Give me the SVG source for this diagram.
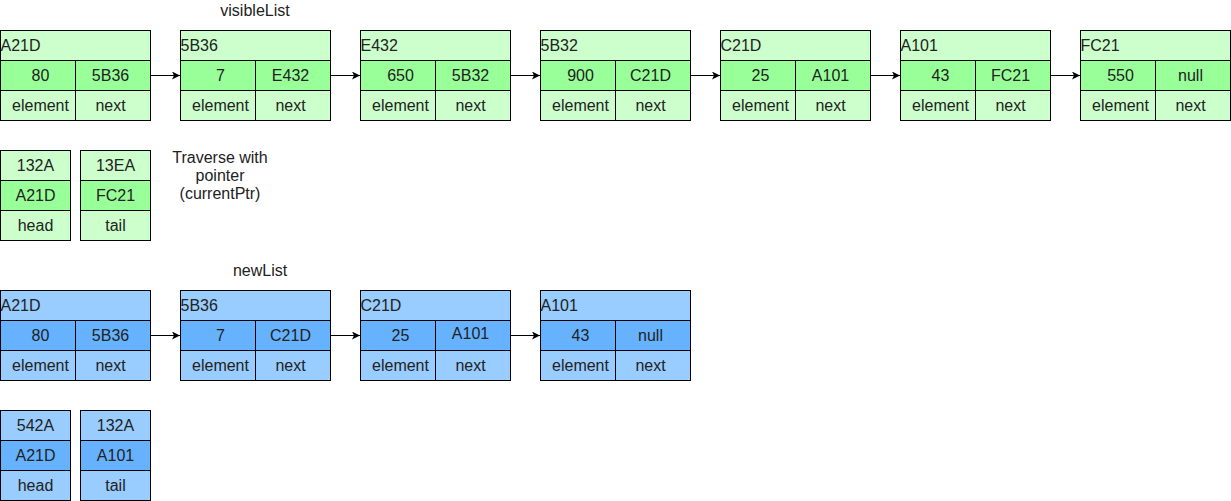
<svg xmlns="http://www.w3.org/2000/svg" width="1231" height="501" viewBox="0 0 1231 501">
<style>
text{font-family:"Liberation Sans",Arial,sans-serif;font-size:16px;fill:#222;dominant-baseline:central}
.c{text-anchor:middle}
.l{text-anchor:start}
.n rect{stroke:#000;stroke-width:1}
.gl{fill:#CCFFCC}.gd{fill:#99FF99}
.bl{fill:#99CCFF}.bd{fill:#66B2FF}
.conn line{stroke:#000;stroke-width:1}
</style>
<defs>
<marker id="ah" markerWidth="10" markerHeight="10" refX="8" refY="4" orient="auto" markerUnits="userSpaceOnUse">
<path d="M0,0 L8,4 L0,8 L2,4 Z" fill="#000"/>
</marker>
</defs>
<rect width="1231" height="501" fill="#fff"/>

<text class="c" x="255" y="10">visibleList</text>
<text class="c" x="260" y="270">newList</text>
<g id="traverse-label"><text class="c" x="220" y="157">Traverse with</text><text class="c" x="220" y="175">pointer</text><text class="c" x="220" y="193">(currentPtr)</text></g>

<!-- green list -->
<g id="g1" class="n" transform="translate(0.5,30.5)"><rect class="gl" width="150" height="30"/><rect class="gd" y="30" width="75" height="30"/><rect class="gd" x="75" y="30" width="75" height="30"/><rect class="gl" y="60" width="75" height="30"/><rect class="gl" x="75" y="60" width="75" height="30"/><text class="l" x="0" y="15">A21D</text><text class="c" x="40" y="45">80</text><text class="c" x="110" y="45">5B36</text><text class="c" x="40" y="75">element</text><text class="c" x="110" y="75">next</text></g>
<g id="g2" class="n" transform="translate(180.5,30.5)"><rect class="gl" width="150" height="30"/><rect class="gd" y="30" width="75" height="30"/><rect class="gd" x="75" y="30" width="75" height="30"/><rect class="gl" y="60" width="75" height="30"/><rect class="gl" x="75" y="60" width="75" height="30"/><text class="l" x="0" y="15">5B36</text><text class="c" x="40" y="45">7</text><text class="c" x="110" y="45">E432</text><text class="c" x="40" y="75">element</text><text class="c" x="110" y="75">next</text></g>
<g id="g3" class="n" transform="translate(360.5,30.5)"><rect class="gl" width="150" height="30"/><rect class="gd" y="30" width="75" height="30"/><rect class="gd" x="75" y="30" width="75" height="30"/><rect class="gl" y="60" width="75" height="30"/><rect class="gl" x="75" y="60" width="75" height="30"/><text class="l" x="0" y="15">E432</text><text class="c" x="40" y="45">650</text><text class="c" x="110" y="45">5B32</text><text class="c" x="40" y="75">element</text><text class="c" x="110" y="75">next</text></g>
<g id="g4" class="n" transform="translate(540.5,30.5)"><rect class="gl" width="150" height="30"/><rect class="gd" y="30" width="75" height="30"/><rect class="gd" x="75" y="30" width="75" height="30"/><rect class="gl" y="60" width="75" height="30"/><rect class="gl" x="75" y="60" width="75" height="30"/><text class="l" x="0" y="15">5B32</text><text class="c" x="40" y="45">900</text><text class="c" x="110" y="45">C21D</text><text class="c" x="40" y="75">element</text><text class="c" x="110" y="75">next</text></g>
<g id="g5" class="n" transform="translate(720.5,30.5)"><rect class="gl" width="150" height="30"/><rect class="gd" y="30" width="75" height="30"/><rect class="gd" x="75" y="30" width="75" height="30"/><rect class="gl" y="60" width="75" height="30"/><rect class="gl" x="75" y="60" width="75" height="30"/><text class="l" x="0" y="15">C21D</text><text class="c" x="40" y="45">25</text><text class="c" x="110" y="45">A101</text><text class="c" x="40" y="75">element</text><text class="c" x="110" y="75">next</text></g>
<g id="g6" class="n" transform="translate(900.5,30.5)"><rect class="gl" width="150" height="30"/><rect class="gd" y="30" width="75" height="30"/><rect class="gd" x="75" y="30" width="75" height="30"/><rect class="gl" y="60" width="75" height="30"/><rect class="gl" x="75" y="60" width="75" height="30"/><text class="l" x="0" y="15">A101</text><text class="c" x="40" y="45">43</text><text class="c" x="110" y="45">FC21</text><text class="c" x="40" y="75">element</text><text class="c" x="110" y="75">next</text></g>
<g id="g7" class="n" transform="translate(1080.5,30.5)"><rect class="gl" width="150" height="30"/><rect class="gd" y="30" width="75" height="30"/><rect class="gd" x="75" y="30" width="75" height="30"/><rect class="gl" y="60" width="75" height="30"/><rect class="gl" x="75" y="60" width="75" height="30"/><text class="l" x="0" y="15">FC21</text><text class="c" x="40" y="45">550</text><text class="c" x="110" y="45">null</text><text class="c" x="40" y="75">element</text><text class="c" x="110" y="75">next</text></g>

<g id="g-head" class="n" transform="translate(0.5,150.5)"><rect class="gl" width="70" height="30"/><rect class="gd" y="30" width="70" height="30"/><rect class="gl" y="60" width="70" height="30"/><text class="c" x="35" y="15">132A</text><text class="c" x="35" y="45">A21D</text><text class="c" x="35" y="75">head</text></g>
<g id="g-tail" class="n" transform="translate(80.5,150.5)"><rect class="gl" width="70" height="30"/><rect class="gd" y="30" width="70" height="30"/><rect class="gl" y="60" width="70" height="30"/><text class="c" x="35" y="15">13EA</text><text class="c" x="35" y="45">FC21</text><text class="c" x="35" y="75">tail</text></g>

<!-- blue list -->
<g id="b1" class="n" transform="translate(0.5,290.5)"><rect class="bl" width="150" height="30"/><rect class="bd" y="30" width="75" height="30"/><rect class="bd" x="75" y="30" width="75" height="30"/><rect class="bl" y="60" width="75" height="30"/><rect class="bl" x="75" y="60" width="75" height="30"/><text class="l" x="0" y="15">A21D</text><text class="c" x="40" y="45">80</text><text class="c" x="110" y="45">5B36</text><text class="c" x="40" y="75">element</text><text class="c" x="110" y="75">next</text></g>
<g id="b2" class="n" transform="translate(180.5,290.5)"><rect class="bl" width="150" height="30"/><rect class="bd" y="30" width="75" height="30"/><rect class="bd" x="75" y="30" width="75" height="30"/><rect class="bl" y="60" width="75" height="30"/><rect class="bl" x="75" y="60" width="75" height="30"/><text class="l" x="0" y="15">5B36</text><text class="c" x="40" y="45">7</text><text class="c" x="110" y="45">C21D</text><text class="c" x="40" y="75">element</text><text class="c" x="110" y="75">next</text></g>
<g id="b3" class="n" transform="translate(360.5,290.5)"><rect class="bl" width="150" height="30"/><rect class="bd" y="30" width="75" height="30"/><rect class="bd" x="75" y="30" width="75" height="30"/><rect class="bl" y="60" width="75" height="30"/><rect class="bl" x="75" y="60" width="75" height="30"/><text class="l" x="0" y="15">C21D</text><text class="c" x="40" y="45">25</text><text class="c" x="110" y="43">A101</text><text class="c" x="40" y="75">element</text><text class="c" x="110" y="75">next</text></g>
<g id="b4" class="n" transform="translate(540.5,290.5)"><rect class="bl" width="150" height="30"/><rect class="bd" y="30" width="75" height="30"/><rect class="bd" x="75" y="30" width="75" height="30"/><rect class="bl" y="60" width="75" height="30"/><rect class="bl" x="75" y="60" width="75" height="30"/><text class="l" x="0" y="15">A101</text><text class="c" x="40" y="45">43</text><text class="c" x="110" y="45">null</text><text class="c" x="40" y="75">element</text><text class="c" x="110" y="75">next</text></g>

<g id="b-head" class="n" transform="translate(0.5,410.5)"><rect class="bl" width="70" height="30"/><rect class="bd" y="30" width="70" height="30"/><rect class="bl" y="60" width="70" height="30"/><text class="c" x="35" y="15">542A</text><text class="c" x="35" y="45">A21D</text><text class="c" x="35" y="75">head</text></g>
<g id="b-tail" class="n" transform="translate(80.5,410.5)"><rect class="bl" width="70" height="30"/><rect class="bd" y="30" width="70" height="30"/><rect class="bl" y="60" width="70" height="30"/><text class="c" x="35" y="15">132A</text><text class="c" x="35" y="45">A101</text><text class="c" x="35" y="75">tail</text></g>

<g id="connectors" class="conn">
<line x1="150.5" y1="75.5" x2="180" y2="75.5" marker-end="url(#ah)"/>
<line x1="330.5" y1="75.5" x2="360" y2="75.5" marker-end="url(#ah)"/>
<line x1="510.5" y1="75.5" x2="540" y2="75.5" marker-end="url(#ah)"/>
<line x1="690.5" y1="75.5" x2="720" y2="75.5" marker-end="url(#ah)"/>
<line x1="870.5" y1="75.5" x2="900" y2="75.5" marker-end="url(#ah)"/>
<line x1="1050.5" y1="75.5" x2="1080" y2="75.5" marker-end="url(#ah)"/>
<line x1="150.5" y1="335.5" x2="180" y2="335.5" marker-end="url(#ah)"/>
<line x1="330.5" y1="335.5" x2="360" y2="335.5" marker-end="url(#ah)"/>
<line x1="510.5" y1="335.5" x2="540" y2="335.5" marker-end="url(#ah)"/>
</g>
</svg>
